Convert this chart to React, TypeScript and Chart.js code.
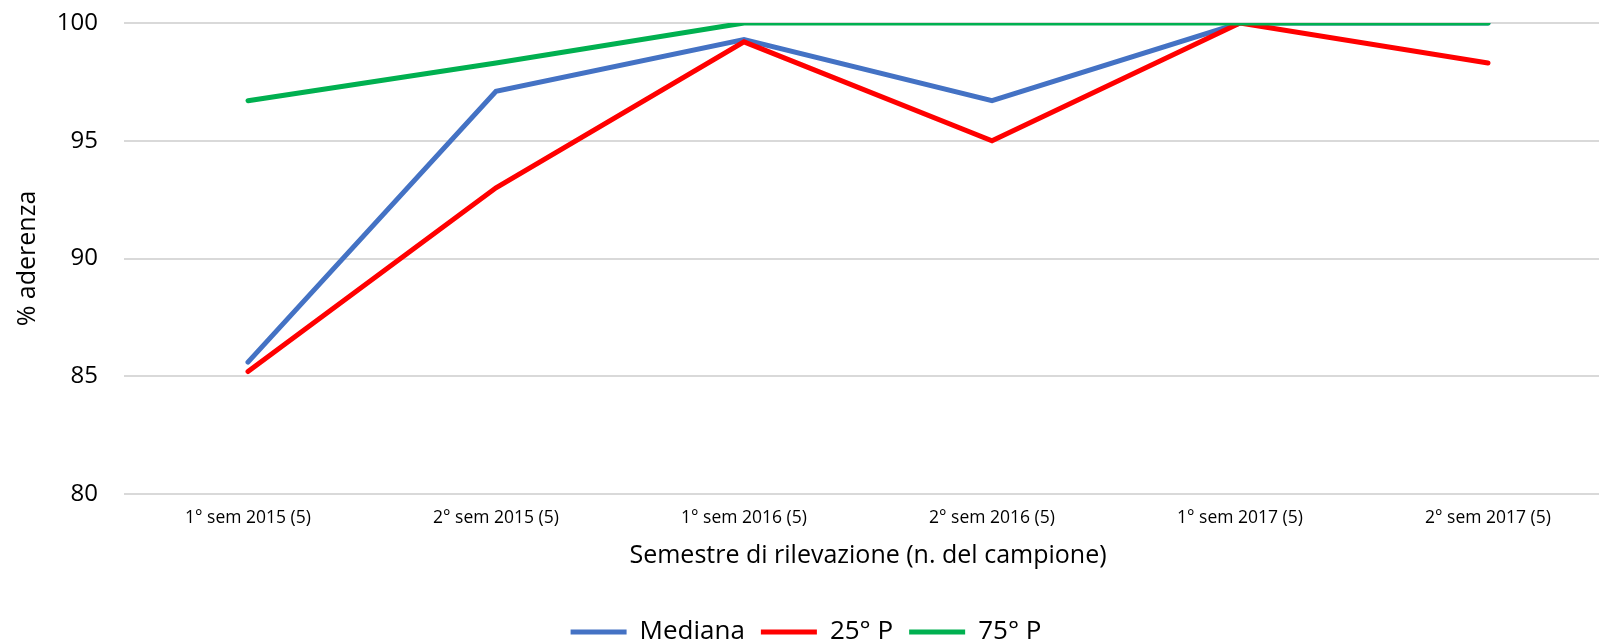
import React, { useEffect, useRef } from "react";
import { Chart, registerables } from "chart.js";

Chart.register(...registerables);

const categories = [
  "1° sem 2015 (5)",
  "2° sem 2015 (5)",
  "1° sem 2016 (5)",
  "2° sem 2016 (5)",
  "1° sem 2017 (5)",
  "2° sem 2017 (5)",
];
const mediana = [85.6, 97.1, 99.3, 96.7, 100, 100];
const p25 = [85.2, 93.0, 99.2, 95.0, 100, 98.3];
const p75 = [96.7, 98.3, 100, 100, 100, 100];

const FONT = "'Open Sans', 'Noto Sans', sans-serif";

export default function App() {
  const ref = useRef<HTMLCanvasElement | null>(null);

  useEffect(() => {
    document.body.style.margin = "0";
    document.body.style.overflow = "hidden";
    const ctx = ref.current!;
    const common = {
      borderWidth: 5,
      borderCapStyle: "round" as const,
      pointRadius: 0,
      tension: 0,
    };
    const chart = new Chart(ctx, {
      type: "line",
      data: {
        labels: categories,
        datasets: [
          { label: "Mediana", data: mediana, borderColor: "#4472C4", backgroundColor: "#4472C4", order: 2, ...common },
          { label: "25° P", data: p25, borderColor: "#FF0000", backgroundColor: "#FF0000", order: 1, ...common },
          { label: "75° P", data: p75, borderColor: "#00B050", backgroundColor: "#00B050", order: 0, ...common },
        ],
      },
      options: {
        animation: false,
        responsive: false,
        maintainAspectRatio: false,
        layout: { padding: { top: 23, right: 13, left: 0, bottom: 0 } },
        plugins: {
          tooltip: { enabled: false },
          legend: {
            position: "bottom",
            labels: {
              usePointStyle: true,
              pointStyle: "line",
              pointStyleWidth: 56,
              boxHeight: 26,
              padding: 16,
              color: "#000",
              font: { family: FONT, size: 26 },
              sort: (a: any, b: any) => a.datasetIndex - b.datasetIndex,
            },
          },
        },
        scales: {
          x: {
            offset: true,
            grid: { display: false, drawTicks: false },
            border: { display: false },
            ticks: {
              color: "#000",
              padding: 14,
              maxRotation: 0,
              autoSkip: false,
              font: { family: FONT, size: 17.5 },
            },
            title: {
              display: true,
              text: "Semestre di rilevazione (n. del campione)",
              color: "#000",
              font: { family: FONT, size: 25 },
              padding: { top: 0, bottom: 32 },
            },
            afterFit: (s: any) => {
              s.height = 109;
            },
          },
          y: {
            min: 80,
            max: 100,
            grid: { color: "#d9d9d9", lineWidth: 2, drawTicks: false },
            border: { display: false },
            ticks: {
              stepSize: 5,
              color: "#000",
              padding: 26,
              font: { family: FONT, size: 24 },
            },
            title: {
              display: true,
              text: "% aderenza",
              color: "#000",
              font: { family: FONT, size: 25 },
              padding: { top: 13, bottom: 0 },
            },
            afterFit: (s: any) => {
              s.width = 124;
              s.paddingTop = 0;
              s.paddingBottom = 0;
            },
          },
        },
      },
    });
    return () => chart.destroy();
  }, []);

  return (
    <div style={{ position: "fixed", left: 0, top: 0, width: 1625, height: 655 }}>
      <canvas ref={ref} width={1625} height={655} style={{ width: 1625, height: 655 }} />
    </div>
  );
}
